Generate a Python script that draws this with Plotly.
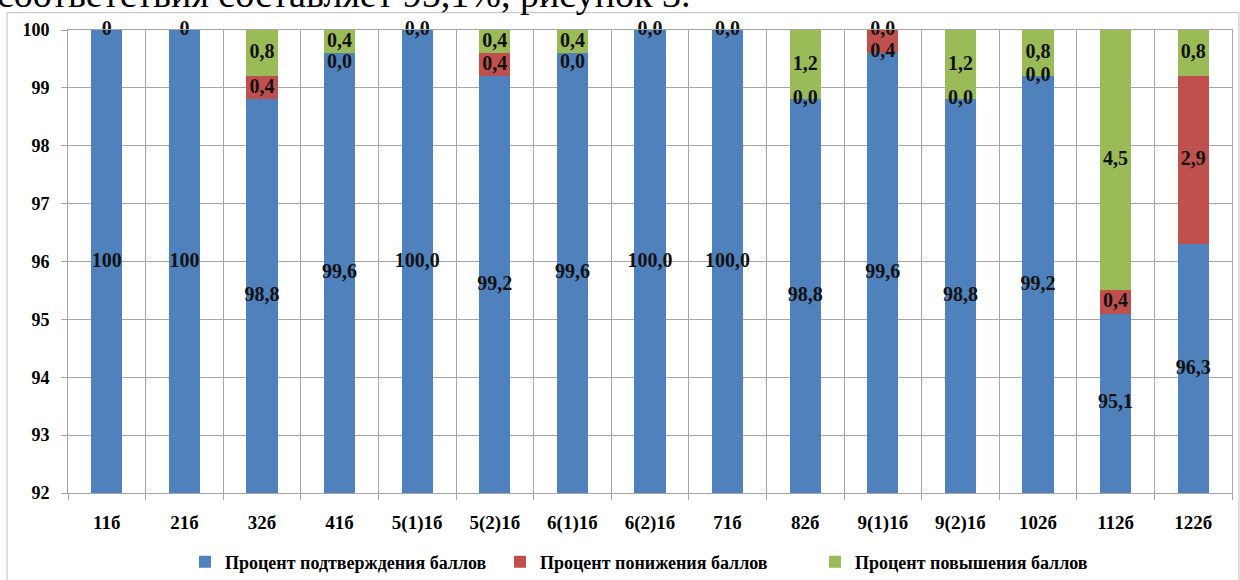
import plotly.graph_objects as go

categories = ["11б", "21б", "32б", "41б", "5(1)1б", "5(2)1б", "6(1)1б", "6(2)1б",
              "71б", "82б", "9(1)1б", "9(2)1б", "102б", "112б", "122б"]
confirm = [100, 100, 98.8, 99.6, 100.0, 99.2, 99.6, 100.0, 100.0, 98.8, 99.6, 98.8, 99.2, 95.1, 96.3]
lower = [0, 0, 0.4, 0.0, 0.0, 0.4, 0.0, 0.0, 0.0, 0.0, 0.4, 0.0, 0.0, 0.4, 2.9]
raise_ = [0, 0, 0.8, 0.4, 0.0, 0.4, 0.4, 0.0, 0.0, 1.2, 0.0, 1.2, 0.8, 4.5, 0.8]
decimals = [0, 0, 1, 1, 1, 1, 1, 1, 1, 1, 1, 1, 1, 1, 1]
series_names = ["Процент подтверждения баллов", "Процент понижения баллов", "Процент повышения баллов"]
colors = ["#4F81BD", "#C0504D", "#9BBB59"]
y_min, y_max = 92, 100

def fmt(v, d):
    return "<b>" + (f"{v:.{d}f}").replace(".", ",") + "</b>"

FONT = "Times New Roman, Liberation Serif, serif"
fig = go.Figure()
for vals, name, col in zip([confirm, lower, raise_], series_names, colors):
    fig.add_trace(go.Bar(x=categories, y=vals, name="<b>" + name + "</b>",
                         marker=dict(color=col, line=dict(width=0)),
                         width=0.4, hoverinfo="skip"))

# label positions computed from data (segment centres within the visible range)
blue_y = [(max(y_min, 0) + v) / 2 for v in confirm]
red_y = [c + l / 2 for c, l in zip(confirm, lower)]
green_y = [c + l + r / 2 for c, l, r in zip(confirm, lower, raise_)]

lbl_font = dict(family=FONT, size=20, color="#111111")
fig.add_trace(go.Scatter(x=categories, y=blue_y, mode="text",
                         text=[fmt(v, d) for v, d in zip(confirm, decimals)],
                         textfont=lbl_font, showlegend=False, hoverinfo="skip", cliponaxis=False))
red_x, red_yy, red_t, red_pos = [], [], [], []
for c, yv, gy, l, r, d in zip(categories, red_y, green_y, lower, raise_, decimals):
    if l == 0 and r == 0:
        continue
    red_x.append(c); red_yy.append(yv); red_t.append(fmt(l, d))
    red_pos.append("bottom center" if abs(gy - yv) < 0.3 else "middle center")
fig.add_trace(go.Scatter(x=red_x, y=red_yy, mode="text", text=red_t, textposition=red_pos,
                         textfont=lbl_font, showlegend=False, hoverinfo="skip", cliponaxis=False))
fig.add_trace(go.Scatter(x=categories, y=green_y, mode="text",
                         text=[fmt(v, d) for v, d in zip(raise_, decimals)],
                         textfont=lbl_font, showlegend=False, hoverinfo="skip", cliponaxis=False))

fig.update_layout(
    barmode="stack", width=1240, height=580,
    margin=dict(l=68, r=8, t=30, b=87, autoexpand=False),
    paper_bgcolor="white", plot_bgcolor="white",
    font=dict(family=FONT, size=18, color="black"),
    showlegend=True,
    legend=dict(orientation="h", x=0.1005, xanchor="left", y=-0.149, yanchor="middle",
                font=dict(family=FONT, size=18, color="black"), traceorder="normal",
                itemwidth=30, entrywidth=270, entrywidthmode="pixels", tracegroupgap=0,
                bgcolor="rgba(0,0,0,0)"),
    xaxis=dict(type="category", range=[-0.5, len(categories) - 0.5], autorange=False,
               tickson="boundaries", showgrid=True, gridcolor="#A6A6A6",
               gridwidth=1, ticks="outside", ticklen=6, tickcolor="#A6A6A6",
               showline=True, linecolor="#A6A6A6", mirror=True,
               tickprefix="<b>", ticksuffix="</b>",
               tickfont=dict(family=FONT, size=19, color="black"), ticklabelstandoff=12),
    yaxis=dict(range=[y_min, y_max], dtick=1, showgrid=True, gridcolor="#A6A6A6", gridwidth=1,
               ticks="outside", ticklen=6, tickcolor="#A6A6A6", showline=True,
               linecolor="#A6A6A6", mirror=True, zeroline=False,
               tickprefix="<b>", ticksuffix="</b>", ticklabelstandoff=8,
               tickfont=dict(family=FONT, size=18, color="black")),
)

# outer chart border
fig.add_shape(type="rect", xref="paper", yref="paper", x0=-0.0524, x1=1.006, y0=-0.2, y1=1.0374,
              line=dict(color="#BFBFBF", width=1), layer="below")

# partially visible caption text above the chart
fig.add_annotation(text="соответствия составляет 95,1%, рисунок 3.", xref="paper", yref="paper",
                   x=-0.0627, xanchor="left", y=1.028, yanchor="bottom", showarrow=False,
                   font=dict(family=FONT, size=38, color="black"))

fig.write_html("out.html", post_script="document.body.style.margin='0';",
               config={"displayModeBar": False})
